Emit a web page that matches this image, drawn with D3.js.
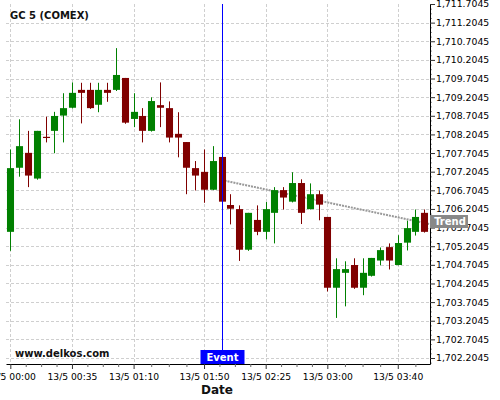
<!DOCTYPE html>
<html><head><meta charset="utf-8">
<script src="https://cdn.jsdelivr.net/npm/d3@7"></script>
<style>
html,body{margin:0;padding:0;background:#fff;}
svg{display:block;font-family:"DejaVu Sans",sans-serif;}
</style></head><body>
<svg id="chart" width="500" height="400"></svg>
<script>
const title = "GC 5 (COMEX)";
const watermark = "www.delkos.com";
const xTitle = "Date";
const day = "2020-05-13";
const times = ["00:00","00:05","00:10","00:15","00:20","00:25","00:30","00:35","00:40","00:45",
  "00:50","00:55","01:00","01:05","01:10","01:15","01:20","01:25","01:30","01:35",
  "01:40","01:45","01:50","01:55","02:00","02:05","02:10","02:15","02:20","02:25",
  "02:30","02:35","02:40","02:45","02:50","02:55","03:00","03:05","03:10","03:15",
  "03:20","03:25","03:30","03:35","03:40","03:45","03:50","03:55"];
const opens = [1705.59,1707.31,1707.71,1707.02,1708.14,1708.30,1708.71,1708.92,1709.40,1709.40,
  1709.00,1709.40,1709.40,1709.72,1708.62,1708.70,1708.30,1708.99,1708.91,1708.22,
  1708.00,1707.30,1707.20,1706.72,1707.60,1706.31,1706.20,1705.11,1705.91,1705.59,
  1706.10,1706.71,1706.40,1706.90,1706.20,1706.60,1705.99,1704.09,1704.49,1704.70,
  1704.09,1704.41,1704.82,1705.18,1704.70,1705.30,1705.59,1706.10];
const highs = [1707.80,1708.61,1708.30,1708.30,1708.68,1708.81,1709.31,1709.60,1709.59,1709.59,
  1709.59,1709.59,1710.52,1709.72,1709.31,1708.91,1709.20,1709.60,1709.09,1708.80,
  1708.00,1707.49,1707.80,1707.89,1707.60,1706.60,1706.30,1706.10,1706.30,1706.39,
  1706.79,1706.79,1707.19,1707.00,1706.89,1706.70,1705.99,1704.88,1704.80,1704.88,
  1704.88,1704.89,1705.17,1705.28,1705.50,1705.89,1706.19,1706.19];
const lows = [1705.08,1707.07,1706.79,1706.99,1707.99,1707.70,1707.99,1708.90,1708.50,1708.89,
  1708.80,1709.08,1709.37,1708.49,1708.40,1707.99,1708.28,1708.40,1707.99,1707.59,
  1706.60,1706.70,1706.37,1706.71,1706.39,1705.79,1704.81,1705.08,1705.50,1705.39,
  1705.28,1706.19,1706.38,1705.80,1706.19,1705.90,1703.99,1703.28,1703.59,1704.06,
  1703.89,1704.39,1704.69,1704.58,1704.69,1705.09,1705.49,1705.57];
const closes = [1707.30,1707.89,1707.10,1708.30,1708.12,1708.70,1708.91,1709.32,1709.32,1708.91,
  1709.40,1709.32,1709.80,1708.52,1708.81,1708.30,1709.10,1708.92,1708.12,1708.12,
  1707.31,1707.10,1706.72,1707.49,1706.40,1706.21,1705.11,1706.10,1705.59,1706.20,
  1706.71,1706.51,1706.90,1706.10,1706.60,1706.32,1704.09,1704.59,1704.59,1704.09,
  1704.49,1704.89,1705.10,1704.82,1705.29,1705.69,1705.99,1705.59];
const xTickLabels = ["00:00","00:35","01:10","01:50","02:25","03:00","03:40"];
const yTickValues = [1702.2045,1702.7045,1703.2045,1703.7045,1704.2045,1704.7045,1705.2045,
  1705.7045,1706.2045,1706.7045,1707.2045,1707.7045,1708.2045,1708.7045,1709.2045,
  1709.7045,1710.2045,1710.7045,1711.2045,1711.7045];
const eventTime = "02:00";
const eventLabel = "Event";
const trendTimes = ["02:00","03:58"];
const trendValues = [1706.98, 1705.80];
const trendLabel = "Trend";

const W = 500, H = 400;
const pLeft = 6, pRight = 430, pTop = 4, pBottom = 364;
const parse = d3.timeParse("%Y-%m-%d %H:%M");
const T = s => parse(day + " " + s);
const data = times.map((t,i)=>({t:T(t),o:opens[i],h:highs[i],l:lows[i],c:closes[i]}));

const t0 = data[0].t, tN = data[data.length-1].t;
const x = d3.scaleTime()
  .domain([new Date(+t0 - 147000), new Date(+tN + 198000)])
  .range([pLeft, pRight]);
const y = d3.scaleLinear().domain([1702.0435, 1711.7045]).range([pBottom, pTop]);

const svg = d3.select("#chart");
svg.append("rect").attr("width",W).attr("height",H).attr("fill","#fff");

const xMajor = xTickLabels.map(T);
const xMinor = [];
for (let i=0;i<xMajor.length;i++){
  const a = +xMajor[i];
  const step = i<xMajor.length-1 ? (+xMajor[i+1]-a)/4 : (+xMajor[i]-(+xMajor[i-1]))/4;
  for (let k=1;k<4;k++){ const v = a+step*k; if (v <= +x.domain()[1]) xMinor.push(new Date(v)); }
}

// grid
const grid = svg.append("g").attr("stroke","#cfcfcf").attr("stroke-dasharray","3,2").attr("stroke-width",1);
grid.selectAll("line.h").data(yTickValues.slice(0,-1)).enter().append("line")
  .attr("x1",pLeft).attr("x2",pRight)
  .attr("y1",d=>Math.round(y(d))+0.5).attr("y2",d=>Math.round(y(d))+0.5);
grid.selectAll("line.v").data(xMajor).enter().append("line")
  .attr("y1",pTop).attr("y2",pBottom)
  .attr("x1",d=>Math.round(x(d))+0.5).attr("x2",d=>Math.round(x(d))+0.5);

// trend line (beneath candles)
svg.append("line")
  .attr("x1",x(T(trendTimes[0]))).attr("y1",y(trendValues[0]))
  .attr("x2",x(T(trendTimes[1]))).attr("y2",y(trendValues[1]))
  .attr("stroke","#999").attr("stroke-width",2).attr("stroke-dasharray","2,1");

// candles
const bw = (x(data[1].t)-x(data[0].t))*0.8;
const cg = svg.append("g");
const candle = cg.selectAll("g").data(data).enter().append("g");
const col = d => d.c >= d.o ? "#008000" : "#800000";
candle.append("line")
  .attr("x1",d=>Math.round(x(d.t))+0.5).attr("x2",d=>Math.round(x(d.t))+0.5)
  .attr("y1",d=>y(d.h)).attr("y2",d=>y(d.l))
  .attr("stroke",col).attr("stroke-width",1);
candle.append("rect")
  .attr("x",d=>Math.round(x(d.t))+0.5-bw/2)
  .attr("width",bw)
  .attr("y",d=>y(Math.max(d.o,d.c)))
  .attr("height",d=>Math.max(1.2, Math.abs(y(d.o)-y(d.c))))
  .attr("fill",col);

// event line
const ex = Math.round(x(T(eventTime)))+0.5;
svg.append("line").attr("x1",ex).attr("x2",ex).attr("y1",pTop).attr("y2",pBottom)
  .attr("stroke","#0000ff").attr("stroke-width",1);

// axes
const fmtX = d3.timeFormat("%-d/%-m %H:%M");
const xAxis = svg.append("g").attr("transform",`translate(0,${pBottom})`)
  .call(d3.axisBottom(x).tickValues(xMajor).tickFormat(fmtX).tickSize(5).tickSizeOuter(0).tickPadding(4.5));
xAxis.select(".domain").attr("stroke","#000");
xAxis.selectAll(".tick line").attr("stroke","#333");
xAxis.selectAll("text").attr("font-size","9.2px").attr("font-family","DejaVu Sans").attr("fill","#000");
const xMinorAxis = svg.append("g").attr("transform",`translate(0,${pBottom})`)
  .call(d3.axisBottom(x).tickValues(xMinor).tickFormat("").tickSize(3).tickSizeOuter(0));
xMinorAxis.select(".domain").remove();
xMinorAxis.selectAll(".tick line").attr("stroke","#666");

const fmtY = d3.format(",.4f");
const yMinorVals = d3.range(1702.0795, 1711.70, 0.125).filter(v => !yTickValues.some(t=>Math.abs(t-v)<1e-6) && v>=y.domain()[0]);
const yMinorAxis = svg.append("g").attr("transform",`translate(${pRight},0)`)
  .call(d3.axisRight(y).tickValues(yMinorVals).tickFormat("").tickSize(2).tickSizeOuter(0));
yMinorAxis.select(".domain").remove();
yMinorAxis.selectAll(".tick line").attr("stroke","#999");
const yAxis = svg.append("g").attr("transform",`translate(${pRight},0)`)
  .call(d3.axisRight(y).tickValues(yTickValues).tickFormat(fmtY).tickSize(5).tickSizeOuter(0).tickPadding(1));
yAxis.select(".domain").attr("stroke","#000");
yAxis.selectAll(".tick line").attr("stroke","#333");
yAxis.selectAll("text").attr("font-size","9.3px").attr("font-family","DejaVu Sans").attr("fill","#000");

// labels
svg.append("text").attr("x",10).attr("y",18.5).attr("font-size","10px").attr("font-weight","bold")
  .attr("fill","#111").text(title);
svg.append("text").attr("x",15).attr("y",357).attr("font-size","10px").attr("font-weight","bold")
  .attr("fill","#111").text(watermark);
svg.append("text").attr("x",217).attr("y",394).attr("text-anchor","middle").attr("font-size","12px")
  .attr("font-weight","bold").attr("fill","#111").text(xTitle);

// event label
svg.append("rect").attr("x",ex-22).attr("y",350).attr("width",44).attr("height",14).attr("fill","#0000ff");
svg.append("text").attr("x",ex).attr("y",361).attr("text-anchor","middle").attr("font-size","10px")
  .attr("font-weight","bold").attr("fill","#fff").text(eventLabel);

// trend label
const ty = y(trendValues[1]) - 2.5;
svg.append("rect").attr("x",pRight).attr("y",ty-6.5).attr("width",38).attr("height",13).attr("fill","#888");
svg.append("text").attr("x",pRight+20).attr("y",ty+3.8).attr("text-anchor","middle").attr("font-size","10px")
  .attr("font-weight","bold").attr("fill","#fff").text(trendLabel);
</script>
</body></html>
